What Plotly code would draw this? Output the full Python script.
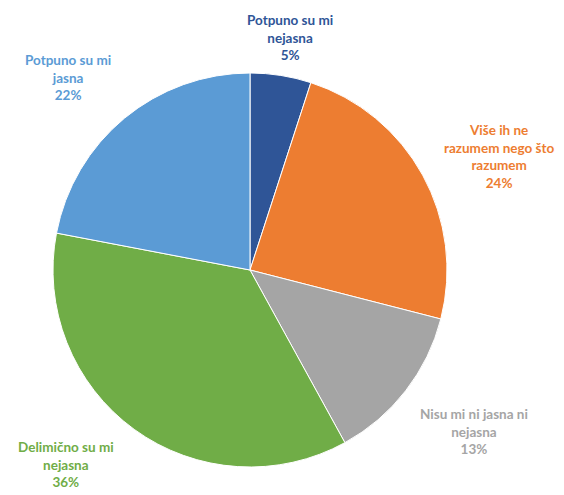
import plotly.graph_objects as go

categories = ["Potpuno su mi nejasna", "Više ih ne razumem nego što razumem",
              "Nisu mi ni jasna ni nejasna", "Delimično su mi nejasna", "Potpuno su mi jasna"]
label_lines = ["Potpuno su mi<br>nejasna", "Više ih ne<br>razumem nego što<br>razumem",
               "Nisu mi ni jasna ni<br>nejasna", "Delimično su mi<br>nejasna", "Potpuno su mi<br>jasna"]
values = [5, 24, 13, 36, 22]
colors = ["#2F5597", "#ED7D31", "#A5A5A5", "#70AD47", "#5B9BD5"]
label_colors = ["#2F5597", "#ED7D31", "#A5A5A5", "#70AD47", "#5B9BD5"]

W, H = 564, 495
OFF = 8  # page body margin
# label block centres in window pixels
label_pos = [(290, 37), (499, 157), (474, 431), (66, 464), (68, 77)]

fig = go.Figure(go.Pie(
    labels=categories, values=values, sort=False,
    direction="clockwise", rotation=0,
    marker=dict(colors=colors, line=dict(color="white", width=1)),
    textinfo="none", hoverinfo="label+percent",
    domain=dict(x=[(53 - OFF) / W, (447 - OFF) / W],
                y=[1 - (467 - OFF) / H, 1 - (73 - OFF) / H]),
    showlegend=False,
))

total = sum(values)
for lbl, v, c, (px, py) in zip(label_lines, values, label_colors, label_pos):
    fig.add_annotation(
        x=(px - OFF) / W, y=1 - (py - OFF) / H, xref="paper", yref="paper",
        text=f"<b>{lbl}<br>{round(100 * v / total)}%</b>",
        showarrow=False, font=dict(family="Lato", size=13.5, color=c),
        align="center", xanchor="center", yanchor="middle",
    )

fig.update_layout(
    width=W, height=H, margin=dict(l=0, r=0, t=0, b=0),
    paper_bgcolor="white", plot_bgcolor="white",
)
fig.write_html("out.html")
